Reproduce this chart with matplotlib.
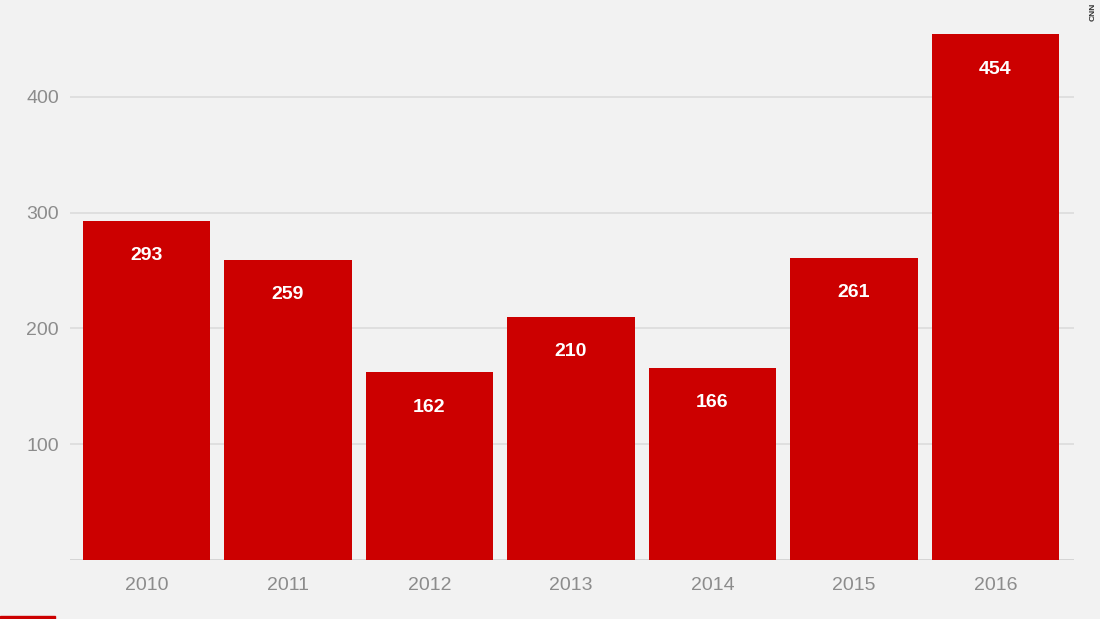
import matplotlib.pyplot as plt
from matplotlib.patches import Rectangle

years = ['2010', '2011', '2012', '2013', '2014', '2015', '2016']
counts = [293, 259, 162, 210, 166, 261, 454]
yticks = [100, 200, 300, 400]

BG = '#f2f2f2'
RED = '#cc0000'
GRAY = '#8c8c8c'

plt.rcParams['font.family'] = ['Liberation Sans', 'DejaVu Sans']

fig = plt.figure(figsize=(11, 6.19), dpi=100, facecolor=BG)
ax = fig.add_axes([70 / 1100, 59 / 619, 1004 / 1100, 560 / 619])
ax.set_facecolor(BG)

pos = list(range(len(years)))
ax.bar(pos, counts, width=0.9, color=RED, zorder=3)
for x, v in zip(pos, counts):
    ax.text(x, v - 30, str(v), ha='center', va='center', color='white',
            fontsize=14, fontweight='bold', zorder=4)

ax.set_xlim(-0.54, 6.555)
ax.set_ylim(0, 483.8)
ax.set_yticks(yticks)
ax.set_xticks(pos)
ax.set_xticklabels(years)
ax.tick_params(axis='both', length=0, colors=GRAY, labelsize=14)
ax.tick_params(axis='y', pad=8)
ax.tick_params(axis='x', pad=12)
ax.grid(axis='y', color='#dcdcdc', linewidth=1.2, zorder=0)
ax.axhline(0, color='#d0d0d0', linewidth=1.2, zorder=1)
for s in ax.spines.values():
    s.set_visible(False)

# watermark and logo strip
fig.text(1093 / 1100, 1 - 12 / 619, 'CNN', rotation=90, ha='center', va='center',
         fontsize=6, color='#333333', fontweight='bold')
fig.patches.append(Rectangle((0, 0), 55 / 1100, 3 / 619, transform=fig.transFigure,
                             color=RED, figure=fig))

fig.savefig('out.png', dpi=100, facecolor=BG)
